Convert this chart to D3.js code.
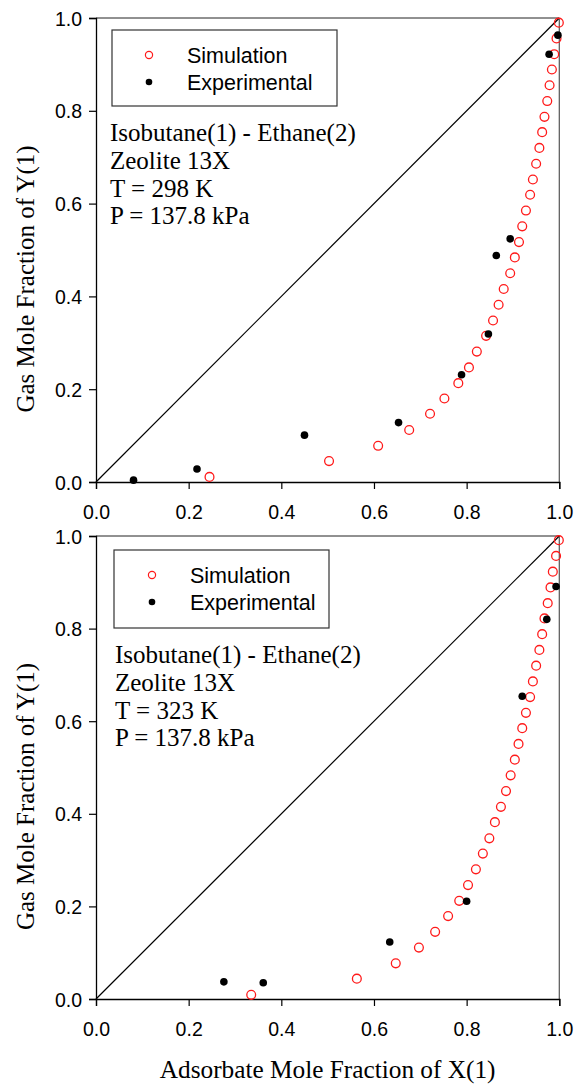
<!DOCTYPE html>
<html>
<head>
<meta charset="utf-8">
<script src="https://cdn.jsdelivr.net/npm/d3@7"></script>
<style>
  body { margin: 0; background: #fff; }
  .tick-label { font-family: "Liberation Sans", Arial, sans-serif; font-size: 19.5px; }
  .legend-text { font-family: "Liberation Sans", Arial, sans-serif; font-size: 21.5px; }
  .serif { font-family: "Liberation Serif", "Times New Roman", serif; }
</style>
</head>
<body>
<svg id="chart" width="577" height="1084"></svg>
<script>
"use strict";

// --- data ---
var xTicks = [0.0, 0.2, 0.4, 0.6, 0.8, 1.0];
var yTicks = [0.0, 0.2, 0.4, 0.6, 0.8, 1.0];

var legendLabels = ['Simulation', 'Experimental'];

var annot298 = ['Isobutane(1) - Ethane(2)', 'Zeolite 13X', 'T = 298 K', 'P = 137.8 kPa'];
var annot323 = ['Isobutane(1) - Ethane(2)', 'Zeolite 13X', 'T = 323 K', 'P = 137.8 kPa'];

// 298 K simulation [x, y]
var sim298 = [
    [0.999, 0.990], [0.994, 0.956], [0.989, 0.922], [0.984, 0.889], [0.979, 0.855],
    [0.974, 0.821], [0.968, 0.787], [0.963, 0.754], [0.957, 0.720], [0.950, 0.686],
    [0.943, 0.652], [0.937, 0.619], [0.928, 0.585], [0.920, 0.551], [0.913, 0.517],
    [0.904, 0.484], [0.894, 0.450], [0.880, 0.416], [0.869, 0.382], [0.857, 0.348],
    [0.842, 0.315], [0.822, 0.281], [0.805, 0.247], [0.782, 0.213], [0.752, 0.180],
    [0.721, 0.147], [0.676, 0.112], [0.609, 0.078], [0.503, 0.045], [0.245, 0.011]
];
// 298 K experimental
var exp298 = [
    [0.997, 0.963], [0.978, 0.922], [0.894, 0.524], [0.864, 0.488], [0.847, 0.319],
    [0.789, 0.231], [0.653, 0.128], [0.450, 0.101], [0.218, 0.028], [0.081, 0.004]
];

// 323 K simulation
var sim323 = [
    [0.999, 0.991], [0.993, 0.957], [0.986, 0.923], [0.981, 0.889], [0.975, 0.855],
    [0.968, 0.822], [0.963, 0.788], [0.957, 0.754], [0.950, 0.720], [0.943, 0.686],
    [0.937, 0.652], [0.928, 0.618], [0.920, 0.585], [0.912, 0.551], [0.904, 0.517],
    [0.895, 0.483], [0.885, 0.449], [0.874, 0.415], [0.861, 0.382], [0.849, 0.347],
    [0.835, 0.314], [0.820, 0.280], [0.803, 0.246], [0.784, 0.212], [0.760, 0.179],
    [0.732, 0.145], [0.697, 0.111], [0.647, 0.077], [0.563, 0.044], [0.335, 0.009]
];
// 323 K experimental
var exp323 = [
    [0.993, 0.891], [0.973, 0.820], [0.920, 0.654], [0.800, 0.211], [0.634, 0.123],
    [0.276, 0.037], [0.361, 0.035]
];

// --- layout ---
var svg = d3.select('#chart');

var panels = [
    { sim: sim298, exp: exp298, annot: annot298, top: 18, bottom: 482,
      legend: { x: 112, y: 30, w: 225, h: 76, mx: 149, tx: 187 }, annotX: 110, annotY: 141 },
    { sim: sim323, exp: exp323, annot: annot323, top: 536, bottom: 999,
      legend: { x: 114, y: 550, w: 215, h: 78, mx: 152, tx: 190 }, annotX: 115, annotY: 663 }
];

var left = 96, right = 559.3;

var x = d3.scaleLinear().domain([0, 1]).range([left, right]);

panels.forEach(function( p ) {

    var y = d3.scaleLinear().domain([0, 1]).range([p.bottom, p.top]);
    var g = svg.append('g');

    // frame top / right
    g.append('line').attr('x1', left).attr('x2', right).attr('y1', p.top).attr('y2', p.top)
        .attr('stroke', '#222').attr('stroke-width', 1);
    g.append('line').attr('x1', right).attr('x2', right).attr('y1', p.top).attr('y2', p.bottom)
        .attr('stroke', '#555').attr('stroke-width', 1.2);

    // diagonal
    g.append('line')
        .attr('x1', x(0)).attr('y1', y(0)).attr('x2', x(1)).attr('y2', y(1))
        .attr('stroke', '#000').attr('stroke-width', 1.2);

    // axes
    var xAxis = d3.axisBottom(x).tickValues(xTicks).tickSize(7).tickFormat(d3.format('.1f'));
    var yAxis = d3.axisLeft(y).tickValues(yTicks).tickSize(7).tickFormat(d3.format('.1f'));

    var gx = g.append('g').attr('transform', 'translate(0,' + p.bottom + ')').call(xAxis);
    var gy = g.append('g').attr('transform', 'translate(' + left + ',0)').call(yAxis);

    [gx, gy].forEach(function( a ) {
        a.select('.domain').attr('stroke', '#000').attr('stroke-width', 1.3);
        a.selectAll('.tick line').attr('stroke', '#000').attr('stroke-width', 1.2);
        a.selectAll('.tick text').attr('class', 'tick-label').attr('fill', '#000');
    });
    gx.selectAll('.tick text').attr('dy', null).attr('y', 37);
    gy.selectAll('.tick text').attr('x', -14).attr('dy', '0.36em');

    // simulation points
    g.append('g').selectAll('circle')
        .data(p.sim)
        .enter().append('circle')
            .attr('cx', function( d ) { return x(d[0]); })
            .attr('cy', function( d ) { return y(d[1]); })
            .attr('r', 4.4)
            .attr('fill', 'none')
            .attr('stroke', '#ff1a1a')
            .attr('stroke-width', 1.3);

    // experimental points
    g.append('g').selectAll('circle')
        .data(p.exp)
        .enter().append('circle')
            .attr('cx', function( d ) { return x(d[0]); })
            .attr('cy', function( d ) { return y(d[1]); })
            .attr('r', 3.8)
            .attr('fill', '#000');

    // legend
    var L = p.legend;
    g.append('rect').attr('x', L.x).attr('y', L.y).attr('width', L.w).attr('height', L.h)
        .attr('fill', '#fff').attr('stroke', '#333').attr('stroke-width', 1.2);

    g.append('circle').attr('cx', L.mx).attr('cy', L.y + 25).attr('r', 3.6)
        .attr('fill', 'none').attr('stroke', '#ff1a1a').attr('stroke-width', 1.2);
    g.append('circle').attr('cx', L.mx).attr('cy', L.y + 52).attr('r', 3.3).attr('fill', '#000');

    g.selectAll('.legend-text')
        .data(legendLabels)
        .enter().append('text')
            .attr('class', 'legend-text')
            .attr('x', L.tx)
            .attr('y', function( d, i ) { return L.y + 33 + i * 27; })
            .text(function( d ) { return d; });

    // annotation
    g.append('g').selectAll('text')
        .data(p.annot)
        .enter().append('text')
            .attr('class', 'serif')
            .attr('font-size', 25)
            .attr('x', p.annotX)
            .attr('y', function( d, i ) { return p.annotY + i * 27.8; })
            .text(function( d ) { return d; });

    // y title
    var cy = (p.top + p.bottom) / 2 + 29;
    g.append('text')
        .attr('class', 'serif')
        .attr('font-size', 25)
        .attr('text-anchor', 'middle')
        .attr('transform', 'translate(34,' + cy + ') rotate(-90)')
        .text('Gas Mole Fraction of Y(1)');
});

// x title
svg.append('text')
    .attr('class', 'serif')
    .attr('font-size', 25.3)
    .attr('text-anchor', 'middle')
    .attr('x', (left + right) / 2)
    .attr('y', 1078)
    .text('Adsorbate Mole Fraction of X(1)');
</script>
</body>
</html>
